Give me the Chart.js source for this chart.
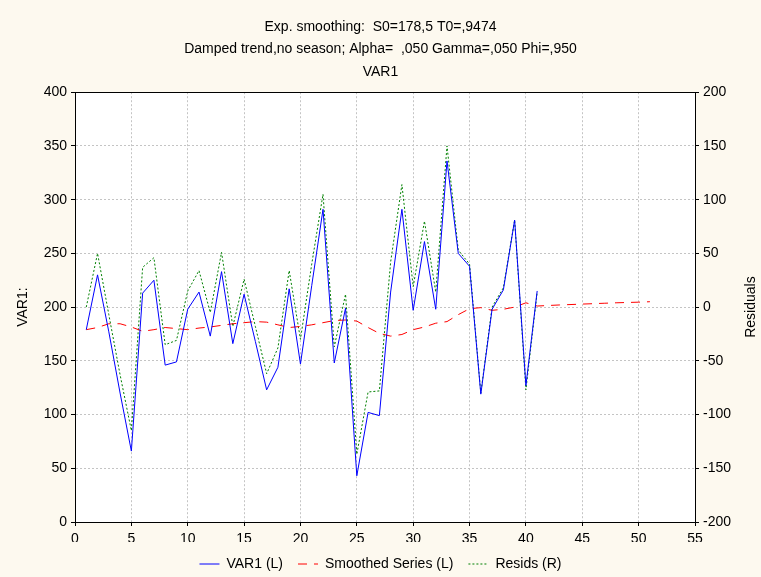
<!DOCTYPE html>
<html>
<head>
<meta charset="utf-8">
<script src="https://cdn.jsdelivr.net/npm/chart.js@4.4.1/dist/chart.umd.min.js"></script>
<style>
  html, body { margin: 0; padding: 0; background: #fdf9ef; overflow: hidden; }
  #box { width: 761px; height: 581px; }
</style>
</head>
<body>
<div id="box"><canvas id="grafico"></canvas></div>
<script>
// observed series, case 1..41
const var1 = [179, 230, 177, 120, 66, 213, 225, 146, 149, 198,
  214, 173, 233, 166, 212, 168, 123, 144, 217, 147,
  220, 291, 148, 199, 43, 102, 99, 214, 291, 197,
  261, 198, 336, 250, 238, 119, 198, 216, 281, 127, 215];

// smoothed series, case 1..51 (last ten are forecast)
const smoothed = [179, 181, 184.5, 184.5, 181.5, 177.5, 179, 181, 180, 179,
  180.5, 181.5, 183, 184.5, 185.5, 186.5, 186, 183.5, 181, 182,
  183.5, 185.5, 187.5, 188, 187, 181, 175.5, 173, 174.5, 179,
  181.5, 185, 186.5, 193, 198.5, 199.5, 197, 198, 200, 204,
  201, 201.5, 202, 202.4, 202.8, 203.2, 203.6, 204, 204.3, 204.6, 205];

// residuals (right axis), case 1..41
const resids = [0, 50, -7, -63, -115, 37, 46, -35, -31, 15,
  34, -5, 51, -18, 26, -18, -62, -38, 34, -30,
  40, 105, -37, 12, -137, -79, -78, 42, 114, 19,
  80, 14, 150, 53, 40, -80, 0, 18, 81, -77, 14];

const titleLines = [
  "Exp. smoothing:  S0=178,5 T0=,9474",
  "Damped trend,no season; Alpha=  ,050 Gamma=,050 Phi=,950",
  "VAR1"
];

const FONT = "'Liberation Sans', Arial, sans-serif";
Chart.defaults.font.family = FONT;
Chart.defaults.font.size = 14;
Chart.defaults.color = "#000";

function punti(arr) {
  return arr.map(function (v, i) { return { x: i + 1, y: v }; });
}

const sfondo = {
  id: "sfondo",
  beforeDraw: function (chart) {
    const c = chart.ctx, a = chart.chartArea;
    c.save();
    c.fillStyle = "#fdf9ef";
    c.fillRect(0, 0, chart.width, chart.height);
    c.fillStyle = "#fff";
    c.fillRect(a.left, a.top, a.right - a.left, a.bottom - a.top);
    c.restore();
  },
  afterDraw: function (chart) {
    const c = chart.ctx, a = chart.chartArea;
    c.save();
    c.strokeStyle = "#000";
    c.lineWidth = 1;
    c.strokeRect(Math.round(a.left) + 0.5, Math.round(a.top) + 0.5,
      Math.round(a.right - a.left), Math.round(a.bottom - a.top));
    // titolo asse destro, letto dal basso verso l'alto
    c.fillStyle = "#000";
    c.font = "14px " + FONT;
    c.textAlign = "center";
    c.textBaseline = "middle";
    c.translate(751, (a.top + a.bottom) / 2);
    c.rotate(-Math.PI / 2);
    c.fillText("Residuals", 0, 0);
    c.restore();
  }
};

const griglia = { color: "#c4c4c4", lineWidth: 1, tickLength: 4, tickColor: "#000" };
const bordo = { color: "#000", width: 1, dash: [2, 2] };

new Chart(document.getElementById("grafico").getContext("2d"), {
  type: "line",
  data: {
    datasets: [
      { label: "VAR1 (L)", data: punti(var1), yAxisID: "y",
        borderColor: "#0000ff", backgroundColor: "#0000ff", borderWidth: 1,
        pointRadius: 0, tension: 0 },
      { label: "Smoothed Series (L)", data: punti(smoothed), yAxisID: "y",
        borderColor: "#ff0000", backgroundColor: "#ff0000", borderWidth: 1,
        borderDash: [9, 7], pointRadius: 0, tension: 0 },
      { label: "Resids (R)", data: punti(resids), yAxisID: "y1",
        borderColor: "#008000", backgroundColor: "#008000", borderWidth: 1,
        borderDash: [2, 2], pointRadius: 0, tension: 0 }
    ]
  },
  options: {
    responsive: true,
    maintainAspectRatio: false,
    animation: false,
    devicePixelRatio: 1,
    layout: { padding: 0 },
    plugins: {
      title: {
        display: true,
        text: titleLines,
        font: { size: 14, weight: "normal", lineHeight: 1.6 },
        color: "#000",
        padding: { top: 16, bottom: 9 }
      },
      legend: {
        position: "bottom",
        labels: {
          usePointStyle: true,
          pointStyle: "line",
          pointStyleWidth: 20,
          padding: 15,
          color: "#000",
          font: { size: 14 },
          generateLabels: function (chart) {
            const items = Chart.defaults.plugins.legend.labels.generateLabels(chart);
            items.forEach(function (it) {
              const ds = chart.data.datasets[it.datasetIndex];
              it.lineDash = ds.borderDash || [];
              it.strokeStyle = ds.borderColor;
              it.lineWidth = 1;
            });
            return items;
          }
        }
      },
      tooltip: { enabled: false }
    },
    scales: {
      x: {
        type: "linear",
        min: 0, max: 55,
        ticks: { stepSize: 5, padding: 5 },
        grid: griglia,
        border: bordo,
        afterFit: function (s) { s.height = 20; }
      },
      y: {
        position: "left",
        min: 0, max: 400,
        ticks: { stepSize: 50, padding: 4 },
        grid: griglia,
        border: bordo,
        title: { display: true, text: "VAR1:", font: { size: 14 }, padding: { top: 15, bottom: 0 } },
        afterFit: function (s) { s.width = 75; }
      },
      y1: {
        position: "right",
        min: -200, max: 200,
        ticks: { stepSize: 50, padding: 4 },
        grid: { drawOnChartArea: false, tickLength: 4, tickColor: "#000" },
        border: { color: "#000", width: 1 },
        afterFit: function (s) { s.width = 66; }
      }
    }
  },
  plugins: [sfondo]
});
</script>
</body>
</html>
